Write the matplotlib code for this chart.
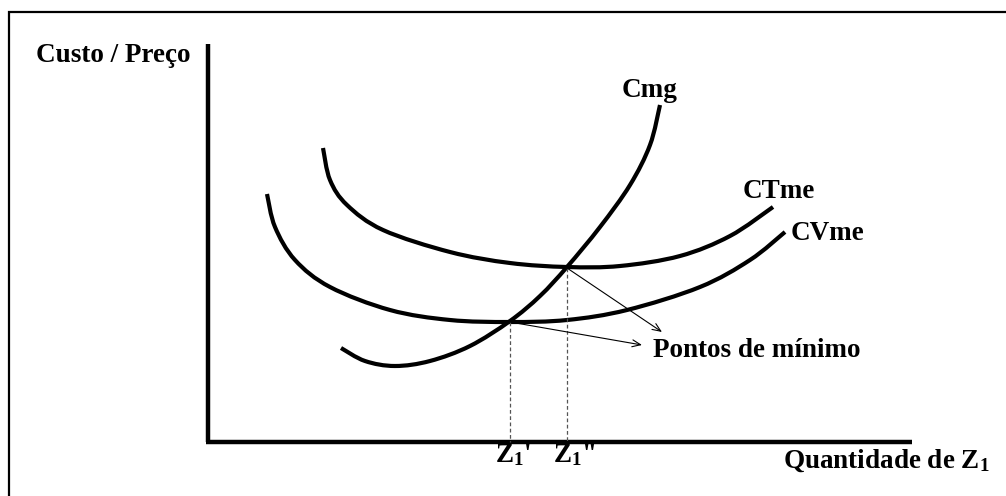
import matplotlib
matplotlib.use("Agg")
import matplotlib.pyplot as plt
from matplotlib.path import Path
from matplotlib.patches import PathPatch

plt.rcParams['font.family'] = ['Liberation Serif', 'DejaVu Serif']
plt.rcParams['mathtext.fontset'] = 'custom'
plt.rcParams['mathtext.rm'] = 'Liberation Serif:bold'
plt.rcParams['mathtext.bf'] = 'Liberation Serif:bold'
plt.rcParams['mathtext.it'] = 'Liberation Serif:bold'

# Curves (chart frame uses picture-like units, y downward)
ctme_x = [323, 330, 347, 383, 450, 510, 567, 620, 680, 730, 773]
ctme_y = [148, 180, 205, 230, 252, 263, 267, 266, 256, 236, 207]

cvme_x = [267, 275, 295, 330, 390, 450, 510, 567, 627, 700, 750, 785]
cvme_y = [194, 227, 260, 287, 310, 320, 322, 320, 310, 287, 260, 232]

cmg_x = [341, 365, 395, 430, 470, 510, 540, 567, 600, 630, 650, 660]
cmg_y = [348, 361, 366, 361, 346, 321, 296, 267, 227, 185, 145, 105]

# minimum points (intersections)
min_x = [510, 567]
min_y = [322, 268]
arrow_tip_x = [642, 662]
arrow_tip_y = [345, 332]

axis_origin = (208, 442)
axis_top = 44
axis_right = 912


def smooth_path(xs, ys):
    """Catmull-Rom spline through the given points, drawn as cubic Bezier segments."""
    pts = list(zip(xs, ys))
    verts = [pts[0]]
    codes = [Path.MOVETO]
    n = len(pts)
    for i in range(n - 1):
        p0 = pts[i - 1] if i > 0 else pts[i]
        p1 = pts[i]
        p2 = pts[i + 1]
        p3 = pts[i + 2] if i + 2 < n else pts[i + 1]
        c1 = (p1[0] + (p2[0] - p0[0]) / 6.0, p1[1] + (p2[1] - p0[1]) / 6.0)
        c2 = (p2[0] - (p3[0] - p1[0]) / 6.0, p2[1] - (p3[1] - p1[1]) / 6.0)
        verts += [c1, c2, p2]
        codes += [Path.CURVE4] * 3
    return Path(verts, codes)


fig = plt.figure(figsize=(10.06, 4.96), dpi=100)
ax = fig.add_axes([0, 0, 1, 1])
ax.set_xlim(0, 1006)
ax.set_ylim(496, 0)
ax.axis('off')

# outer border (left and top visible)
ax.plot([9, 9, 1010], [500, 12, 12], color='black', lw=1.6, solid_joinstyle='miter')

# axes
ax.plot([axis_origin[0], axis_origin[0]], [axis_top, axis_origin[1]], color='black', lw=3.2, solid_capstyle='butt')
ax.plot([axis_origin[0] - 1.5, axis_right], [axis_origin[1], axis_origin[1]], color='black', lw=3.2, solid_capstyle='butt')

for xs, ys in [(ctme_x, ctme_y), (cvme_x, cvme_y), (cmg_x, cmg_y)]:
    ax.add_patch(PathPatch(smooth_path(xs, ys), facecolor='none', edgecolor='black',
                           lw=3.0, capstyle='butt', joinstyle='round'))

# dashed verticals
for mx, my in zip(min_x, min_y):
    ax.plot([mx, mx], [my, axis_origin[1]], color='#555555', lw=0.9, ls=(0, (3, 2)))

# arrows
for mx, my, tx, ty in zip(min_x, min_y, arrow_tip_x, arrow_tip_y):
    ax.annotate('', xy=(tx, ty), xytext=(mx, my),
                arrowprops=dict(arrowstyle='->,head_length=0.6,head_width=0.25', color='black', lw=0.8,
                                shrinkA=0, shrinkB=0))

fs = 19.5
tkw = dict(fontsize=fs, fontweight='bold', color='black', ha='left', va='baseline')
ax.text(36, 62, 'Custo / Preço', **tkw)
ax.text(622, 97, 'Cmg', **tkw)
ax.text(743, 198, 'CTme', **tkw)
ax.text(791, 240, 'CVme', **tkw)
ax.text(653, 357, 'Pontos de mínimo', **tkw)
ax.text(495, 462, r"$\mathrm{Z}_\mathrm{1}$'", **tkw)
ax.text(553, 462, r'$\mathrm{Z}_\mathrm{1}$"', **tkw)
ax.text(783, 468, r'Quantidade de $\mathrm{Z}_\mathrm{1}$', **tkw)

fig.savefig('out.png', dpi=100)
